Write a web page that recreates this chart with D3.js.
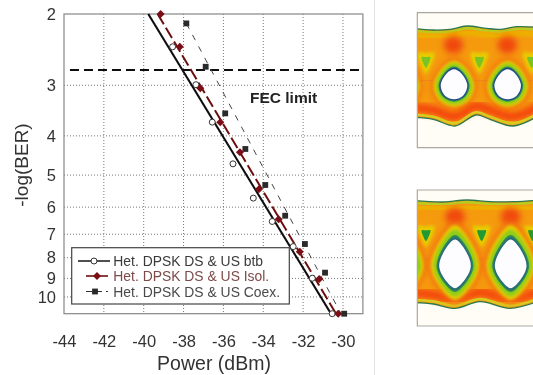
<!DOCTYPE html>
<html>
<head>
<meta charset="utf-8">
<script src="https://cdn.jsdelivr.net/npm/d3@7"></script>
<style>
    body { margin: 0; background: #fff; }
    text { font-family: "Liberation Sans", Arial, sans-serif; fill: #333; }
</style>
</head>
<body>
<div id="svg"></div>
<script>
// measured points, [power dBm, -log(BER)]
const btb_points = [[-38.55, 2.41], [-37.38, 2.99], [-36.56, 3.70], [-35.52, 4.69], [-34.5, 5.70], [-33.55, 6.51], [-32.5, 7.51], [-31.54, 8.99], [-30.54, 11]];
const isol_points = [[-39.15, 2], [-38.19, 2.41], [-37.16, 3.05], [-36.16, 3.70], [-35.17, 4.39], [-34.22, 5.42], [-33.23, 6.43], [-32.17, 7.73], [-31.19, 9.03], [-30.24, 11]];
const coex_points = [[-37.86, 2.11], [-36.89, 2.70], [-35.91, 3.52], [-34.9, 4.31], [-33.9, 5.29], [-32.9, 6.30], [-31.91, 7.40], [-30.9, 8.71], [-29.94, 11]];

// fitted lines
const btb_fit = [[-39.77, 2], [-30.6, 11]];
const isol_fit = [[-39.3, 2], [-30.35, 11]];
const coex_fit = [[-37.86, 2.11], [-30.1, 11]];

const x_ticks = [-44, -42, -40, -38, -36, -34, -32, -30];
const y_ticks = [2, 3, 4, 5, 6, 7, 8, 9, 10];
const fec_level = 2.75;
const fec_span = [-43.7, -29.05];
const legend_labels = ["Het. DPSK DS & US btb", "Het. DPSK DS & US Isol.", "Het. DPSK DS & US Coex."];

// eye diagrams, in picture units of a 399x480 crop
const eye1_top = [[40, 85], [100, 90], [150, 88], [200, 78], [260, 85], [300, 88], [350, 80], [420, 82]];
const eye1_bottom = [[40, 352], [100, 358], [165, 378], [228, 345], [270, 358], [340, 378], [420, 345]];
const eye1_centres = [[-2, 255], [162, 255], [323, 255], [484, 255]];
const eye1_shape = [[0, -50], [22, -38], [42, 0], [30, 32], [0, 45], [-30, 32], [-42, 0], [-22, -38]];
const eye1_hot = [[160, 135], [322, 135]];
const eye1_cold = [[78, 185], [238, 185], [395, 185]];

const eye2_top = [[40, 62], [130, 66], [200, 60], [270, 65], [340, 65], [420, 60]];
const eye2_bottom = [[40, 368], [100, 372], [165, 385], [240, 365], [330, 385], [420, 362]];
const eye2_centres = [[-2, 258], [165, 258], [332, 258], [499, 258]];
const eye2_shape = [[0, -84], [26, -60], [50, 0], [26, 50], [0, 70], [-26, 50], [-50, 0], [-26, -60]];
const eye2_hot = [[165, 110], [332, 110]];
const eye2_cold = [[78, 165], [245, 165], [398, 165]];

const width = 533;
const height = 375;

const svg = d3.select('#svg')
    .append('svg')
    .attr("width", width)
    .attr("height", height)
    .style("display", "block");

const defs = svg.append("defs");
[["soft", 0.45], ["eye", 0.7], ["blur2", 1.6], ["blur4", 3.2]].forEach(f => {
    defs.append("filter").attr("id", f[0])
        .attr("x", "-30%").attr("y", "-30%").attr("width", "160%").attr("height", "160%")
        .append("feGaussianBlur").attr("stdDeviation", f[1]);
});

// divider between the chart and the eye diagrams
svg.append("line")
    .attr("x1", 374.5).attr("x2", 374.5).attr("y1", 0).attr("y2", height)
    .attr("stroke", "#e2e2e2");

const x = d3.scaleLinear().domain([-44, -29]).range([64, 362.9]);
const y = d3.scaleLog().domain([2, 11]).range([14, 313.7]);

const chart = svg.append("g").attr("filter", "url(#soft)");

// grid
chart.append("g").selectAll("line")
    .data(x_ticks.slice(1))
    .enter().append("line")
    .attr("x1", d => x(d)).attr("x2", d => x(d))
    .attr("y1", y.range()[0]).attr("y2", y.range()[1])
    .attr("stroke", "#777").attr("stroke-dasharray", "1 2");
chart.append("g").selectAll("line")
    .data(y_ticks.slice(1))
    .enter().append("line")
    .attr("x1", x.range()[0]).attr("x2", x.range()[1])
    .attr("y1", d => y(d)).attr("y2", d => y(d))
    .attr("stroke", "#777").attr("stroke-dasharray", "1 2");

chart.append("rect")
    .attr("x", x.range()[0]).attr("y", y.range()[0])
    .attr("width", x.range()[1] - x.range()[0])
    .attr("height", y.range()[1] - y.range()[0])
    .attr("fill", "none").attr("stroke", "#888").attr("stroke-width", 1.2);

// axes
const x_axis = chart.append("g")
    .attr("transform", "translate(0," + y.range()[1] + ")")
    .call(d3.axisBottom(x).tickValues(x_ticks).tickSize(0).tickPadding(21.5).tickFormat(d => d));
const y_axis = chart.append("g")
    .attr("transform", "translate(" + x.range()[0] + ",0)")
    .call(d3.axisLeft(y).tickValues(y_ticks).tickSize(0).tickPadding(8).tickFormat(d => d));
x_axis.select(".domain").remove();
y_axis.select(".domain").remove();
x_axis.selectAll("text").style("font-size", "16.5px").style("font-family", "Liberation Sans");
y_axis.selectAll("text").style("font-size", "16.5px").style("font-family", "Liberation Sans");

chart.append("text").text("Power (dBm)")
    .attr("x", 214).attr("y", 369.5).attr("text-anchor", "middle").style("font-size", "19.5px");
chart.append("text").text("-log(BER)")
    .attr("transform", "translate(28,165) rotate(-90)")
    .attr("text-anchor", "middle").style("font-size", "19px");

// FEC limit
chart.append("line")
    .attr("x1", x(fec_span[0])).attr("x2", x(fec_span[1]))
    .attr("y1", y(fec_level)).attr("y2", y(fec_level))
    .attr("stroke", "#111").attr("stroke-width", 2).attr("stroke-dasharray", "9 5");
chart.append("text").text("FEC limit")
    .attr("x", 250).attr("y", 102.5)
    .style("font-size", "15.5px").style("font-weight", "bold").style("fill", "#222");

const line = d3.line().x(d => x(d[0])).y(d => y(d[1]));

const series = [
    { fit: coex_fit, color: "#444", w: 1, dash: "6 7" },
    { fit: isol_fit, color: "#6e1010", w: 2, dash: "12 4" },
    { fit: btb_fit, color: "#111", w: 2.1, dash: null }
];

series.forEach(s => {
    chart.append("path").datum(s.fit)
        .attr("d", line)
        .attr("fill", "none").attr("stroke", s.color)
        .attr("stroke-width", s.w).attr("stroke-dasharray", s.dash);
});

function drawMarker(g, kind, px, py) {
    if (kind === 0) {
        g.append("circle").attr("cx", px).attr("cy", py).attr("r", 3)
            .attr("fill", "#fff").attr("stroke", "#333").attr("stroke-width", 1);
    } else if (kind === 1) {
        g.append("path").attr("transform", "translate(" + px + "," + py + ") rotate(45)")
            .attr("d", d3.symbol().type(d3.symbolSquare).size(32)).attr("fill", "#7a0c14");
    } else {
        g.append("path").attr("transform", "translate(" + px + "," + py + ")")
            .attr("d", d3.symbol().type(d3.symbolSquare).size(34)).attr("fill", "#2a2a2a");
    }
}

btb_points.forEach(d => drawMarker(chart, 0, x(d[0]), y(d[1])));
coex_points.forEach(d => drawMarker(chart, 2, x(d[0]), y(d[1])));
isol_points.forEach(d => drawMarker(chart, 1, x(d[0]), y(d[1])));

// legend
const legend = chart.append("g");
legend.append("rect")
    .attr("x", 71.7).attr("y", 247.7).attr("width", 217.6).attr("height", 56.3)
    .attr("fill", "#fff").attr("stroke", "#444").attr("stroke-width", 1.2);

const legend_rows = [
    { y: 261, x1: 78, x2: 110, mx: 94, color: "#222", text: "#3a3a3a", w: 1.6, dash: null },
    { y: 276, x1: 86, x2: 108, mx: 97, color: "#6e1010", text: "#7d4a4a", w: 1.6, dash: null },
    { y: 291.5, x1: 86, x2: 108, mx: 95, color: "#333", text: "#4a4a4a", w: 1.2, dash: "6 4" }
];
legend_rows.forEach((r, i) => {
    legend.append("line")
        .attr("x1", r.x1).attr("x2", r.x2).attr("y1", r.y).attr("y2", r.y)
        .attr("stroke", r.color).attr("stroke-width", r.w).attr("stroke-dasharray", r.dash);
    drawMarker(legend, i, r.mx, r.y);
    legend.append("text").text(legend_labels[i])
        .attr("x", 113.3).attr("y", r.y + 5)
        .style("font-size", "13.9px").style("fill", r.text);
});

// eye diagrams
function drawEye(id, top_px, frame, top, bottom, centres, shape, hot, cold, cold_color, cross, inner_color) {
    const ex = d3.scaleLinear().domain([0, 399]).range([400, 533]);
    const ey = d3.scaleLinear().domain([0, 480]).range([top_px, top_px + 160]);
    const edge = d3.line().x(d => ex(d[0])).y(d => ey(d[1])).curve(d3.curveCatmullRom);
    const closed = d3.line().x(d => ex(d[0])).y(d => ey(d[1])).curve(d3.curveCatmullRomClosed);

    defs.append("clipPath").attr("id", id).append("rect")
        .attr("x", ex(frame[0])).attr("y", ey(frame[1]))
        .attr("width", ex(399) - ex(frame[0])).attr("height", ey(frame[2]) - ey(frame[1]));

    svg.append("rect")
        .attr("x", ex(frame[0])).attr("y", ey(frame[1]))
        .attr("width", ex(399) - ex(frame[0])).attr("height", ey(frame[2]) - ey(frame[1]))
        .attr("fill", "#fffdf6");

    const clip = svg.append("g").attr("clip-path", "url(#" + id + ")");
    const g = clip.append("g").attr("filter", "url(#eye)");

    // the band between both edges
    const band = edge(top) + "L" + edge(bottom.slice().reverse()).slice(1);
    g.append("path").attr("d", band).attr("fill", "#f59a10");

    // faint crossing line at the decision level, under the eyes
    g.append("line")
        .attr("x1", ex(frame[0])).attr("x2", ex(399)).attr("y1", ey(cross)).attr("y2", ey(cross))
        .attr("stroke", "#d85a50").attr("stroke-opacity", 0.4).attr("stroke-width", 0.8);

    // yellow under the top edge, red above the bottom edge
    const shifted = (pts, dy) => pts.map(d => [d[0], d[1] + dy]);
    g.append("path").attr("d", edge(shifted(top, 7))).attr("fill", "none")
        .attr("stroke", "#b8cc20").attr("stroke-width", 2.5).attr("filter", "url(#soft)");
    g.append("path").attr("d", edge(shifted(top, 20))).attr("fill", "none")
        .attr("stroke", "#ecb000").attr("stroke-width", 6).attr("filter", "url(#blur2)");
    g.append("path").attr("d", edge(shifted(bottom, -28))).attr("fill", "none")
        .attr("stroke", "#f4400a").attr("stroke-width", 9).attr("filter", "url(#blur4)");
    g.append("path").attr("d", edge(shifted(bottom, -8))).attr("fill", "none")
        .attr("stroke", "#d8cc20").attr("stroke-width", 2.5).attr("filter", "url(#soft)");

    hot.forEach(d => {
        g.append("ellipse")
            .attr("cx", ex(d[0])).attr("cy", ey(d[1])).attr("rx", 10).attr("ry", 9)
            .attr("fill", "#f04a10").attr("filter", "url(#blur4)");
    });

    // green triangles between the eyes
    const tri = [[0, -26], [26, -26], [2, 36], [-2, 36], [-26, -26]];
    const tri_small = [[0, -14], [13, -14], [1, 18], [-1, 18], [-13, -14]];
    cold.forEach(d => {
        g.append("path").attr("d", closed(tri.map(p => [d[0] + p[0], d[1] + p[1]])))
            .attr("fill", "#e6cc00").attr("filter", "url(#blur2)");
        g.append("path").attr("d", closed(tri_small.map(p => [d[0] + p[0], d[1] + p[1]])))
            .attr("fill", cold_color).attr("filter", "url(#soft)");
    });

    // rings around each eye, outermost first
    const rings = [[1.6, "#f26a10", 4], [1.46, "#e8cc00", 2], [1.3, "#90cc18", 2], [1.11, "#2d8a58", 1], [1.03, inner_color, 1], [0.95, "#fdfcff", 1]];
    centres.forEach(c => {
        rings.forEach(r => {
            const p = g.append("path")
                .attr("d", closed(shape.map(q => [c[0] + q[0] * r[0], c[1] + q[1] * r[0]])))
                .attr("fill", r[1]);
            if (r[2] > 1) p.attr("filter", r[2] === 4 ? "url(#blur4)" : "url(#blur2)");
        });
    });

    // band edges
    g.append("path").attr("d", edge(top)).attr("fill", "none")
        .attr("stroke", "#2c7a50").attr("stroke-width", 1.3);
    g.append("path").attr("d", edge(bottom)).attr("fill", "none")
        .attr("stroke", "#2c7a50").attr("stroke-width", 1.3);

    // frame
    svg.append("path")
        .attr("d", "M" + ex(399) + "," + ey(frame[1]) + "H" + ex(frame[0]) + "V" + ey(frame[2]) + "H" + ex(399))
        .attr("fill", "none").attr("stroke", "#aca89f").attr("stroke-width", 1.2);
}

drawEye("eye1", 0, [52, 38, 443], eye1_top, eye1_bottom, eye1_centres, eye1_shape, eye1_hot, eye1_cold, "#78c420", 242, "#23468a");
drawEye("eye2", 180, [52, 30, 438], eye2_top, eye2_bottom, eye2_centres, eye2_shape, eye2_hot, eye2_cold, "#249a30", 236, "#2a6a78");
</script>
</body>
</html>
